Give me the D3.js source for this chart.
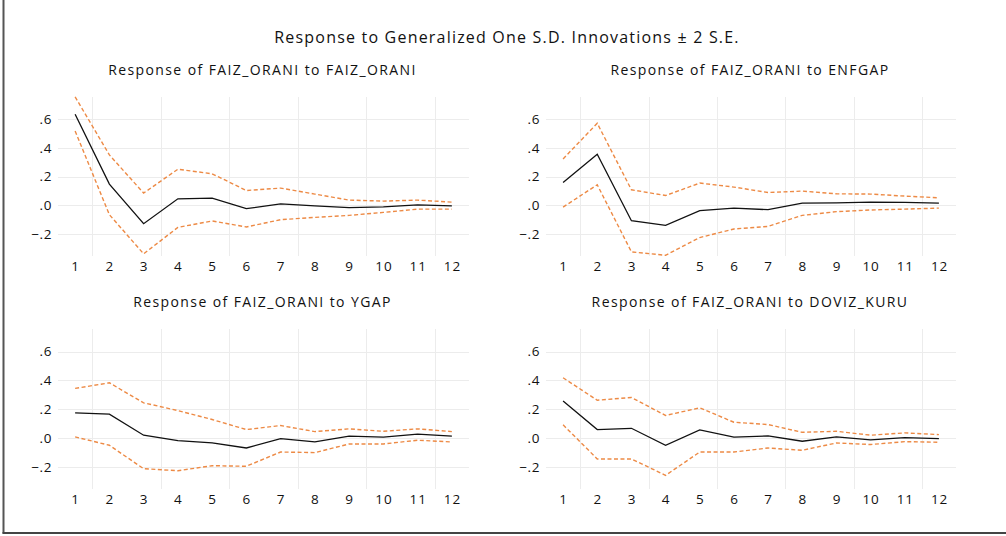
<!DOCTYPE html>
<html>
<head>
<meta charset="utf-8">
<script src="https://cdn.jsdelivr.net/npm/d3@7"></script>
<style>
  html, body { margin: 0; padding: 0; background: #fff; }
  svg { display: block; font-family: "Open Sans", "Noto Sans", sans-serif; }
</style>
</head>
<body>
<svg id="chart" width="1006" height="536"></svg>
<script>
// ---- Data ----
const periods = [1,2,3,4,5,6,7,8,9,10,11,12];
const yTicks = [-0.2, 0.0, 0.2, 0.4, 0.6];
const mainTitle = "Response to Generalized One S.D. Innovations \u00b1 2 S.E.";
const panelTitles = [
  "Response of FAIZ_ORANI to FAIZ_ORANI",
  "Response of FAIZ_ORANI to ENFGAP",
  "Response of FAIZ_ORANI to YGAP",
  "Response of FAIZ_ORANI to DOVIZ_KURU"
];

const faizResp  = [0.636, 0.148, -0.129, 0.045, 0.050, -0.024, 0.010, -0.005, -0.017, -0.012, 0.002, -0.004];
const faizUpper = [0.758, 0.352, 0.085, 0.252, 0.220, 0.103, 0.120, 0.078, 0.036, 0.029, 0.036, 0.022];
const faizLower = [0.519, -0.066, -0.340, -0.155, -0.110, -0.152, -0.101, -0.085, -0.071, -0.050, -0.027, -0.027];

const enfResp  = [0.159, 0.357, -0.108, -0.141, -0.038, -0.020, -0.031, 0.015, 0.017, 0.022, 0.020, 0.015];
const enfUpper = [0.324, 0.573, 0.108, 0.068, 0.155, 0.127, 0.089, 0.099, 0.080, 0.078, 0.064, 0.052];
const enfLower = [-0.013, 0.143, -0.326, -0.350, -0.226, -0.166, -0.148, -0.071, -0.045, -0.033, -0.027, -0.020];

const ygapResp  = [0.174, 0.165, 0.019, -0.019, -0.035, -0.070, -0.005, -0.028, 0.012, 0.005, 0.026, 0.012];
const ygapUpper = [0.344, 0.383, 0.244, 0.190, 0.128, 0.058, 0.086, 0.044, 0.063, 0.046, 0.063, 0.044];
const ygapLower = [0.007, -0.051, -0.214, -0.228, -0.193, -0.197, -0.098, -0.102, -0.042, -0.042, -0.016, -0.028];

const dovizResp  = [0.256, 0.058, 0.067, -0.051, 0.056, 0.005, 0.014, -0.023, 0.007, -0.014, 0.002, -0.005];
const dovizUpper = [0.418, 0.262, 0.281, 0.156, 0.209, 0.109, 0.093, 0.039, 0.046, 0.019, 0.035, 0.023];
const dovizLower = [0.091, -0.146, -0.146, -0.260, -0.098, -0.098, -0.070, -0.086, -0.035, -0.046, -0.026, -0.030];

const panelData = [
  {resp: faizResp, upper: faizUpper, lower: faizLower},
  {resp: enfResp, upper: enfUpper, lower: enfLower},
  {resp: ygapResp, upper: ygapUpper, lower: ygapLower},
  {resp: dovizResp, upper: dovizUpper, lower: dovizLower}
];

// ---- Layout ----
const svg = d3.select("#chart");
const layout = [
  {x0: 58,  x1: 469, y0: 97,  y1: 256},
  {x0: 546, x1: 956, y0: 97,  y1: 256},
  {x0: 58,  x1: 469, y0: 329, y1: 489},
  {x0: 546, x1: 956, y0: 329, y1: 489}
];

// frame
svg.append("line").attr("x1", 3.5).attr("x2", 3.5).attr("y1", 0).attr("y2", 533.5)
  .attr("stroke", "#555").attr("stroke-width", 2);
svg.append("line").attr("x1", 2.5).attr("x2", 1006).attr("y1", 533).attr("y2", 533)
  .attr("stroke", "#444").attr("stroke-width", 2);

svg.append("text").attr("x", 507).attr("y", 43).attr("text-anchor", "middle")
  .attr("font-size", 16).attr("letter-spacing", 1.2).attr("fill", "#111").text(mainTitle);

const fmt = v => {
  let s = d3.format(".1f")(v);
  return s.replace("0.", ".");
};

panelData.forEach((d, i) => {
  const L = layout[i];
  const x = d3.scaleLinear().domain([0.5, 12.5]).range([L.x0, L.x1]);
  const y = d3.scaleLinear().domain([-0.355, 0.757]).range([L.y1, L.y0]);
  const g = svg.append("g");

  g.append("text").attr("x", (L.x0 + L.x1) / 2 - 1).attr("y", L.y0 - 22)
    .attr("text-anchor", "middle").attr("font-size", 14).attr("letter-spacing", 1.4)
    .attr("fill", "#111")
    .text(panelTitles[i]);

  // gridlines
  g.selectAll(".hg").data(yTicks).join("line")
    .attr("x1", L.x0).attr("x2", L.x1)
    .attr("y1", v => Math.round(y(v)) + 0.5).attr("y2", v => Math.round(y(v)) + 0.5)
    .attr("stroke", "#ececec").attr("stroke-width", 1);
  const vgrid = periods.filter(p => p % 2 === 1 && p < 12).map(p => p + 0.5);
  g.selectAll(".vg").data(vgrid).join("line")
    .attr("x1", v => Math.round(x(v)) + 0.5).attr("x2", v => Math.round(x(v)) + 0.5)
    .attr("y1", L.y0).attr("y2", L.y1)
    .attr("stroke", "#ececec").attr("stroke-width", 1);

  // axes
  const xAxis = d3.axisBottom(x).tickValues(periods).tickSize(0).tickPadding(0).tickFormat(d3.format("d"));
  const xa = g.append("g").attr("transform", `translate(0,${L.y1 + 10})`).call(xAxis);
  xa.select(".domain").remove();
  xa.selectAll("text").attr("font-size", 13.5).attr("letter-spacing", 0.8).attr("fill", "#111")
    .attr("font-family", "\"Open Sans\", sans-serif").attr("dy", "0.35em");

  const yAxis = d3.axisLeft(y).tickValues(yTicks).tickSize(0).tickPadding(0).tickFormat(fmt);
  const ya = g.append("g").attr("transform", `translate(${L.x0 - 6},0)`).call(yAxis);
  ya.select(".domain").remove();
  ya.selectAll("text").attr("font-size", 13.5).attr("letter-spacing", 0.6).attr("fill", "#111")
    .attr("font-family", "\"Open Sans\", sans-serif");

  const line = d3.line().x((v, k) => x(periods[k])).y(v => y(v));
  g.append("path").attr("d", line(d.upper)).attr("fill", "none")
    .attr("stroke", "#ED8A45").attr("stroke-width", 1.4).attr("stroke-dasharray", "4,2.5");
  g.append("path").attr("d", line(d.lower)).attr("fill", "none")
    .attr("stroke", "#ED8A45").attr("stroke-width", 1.4).attr("stroke-dasharray", "4,2.5");
  g.append("path").attr("d", line(d.resp)).attr("fill", "none")
    .attr("stroke", "#111").attr("stroke-width", 1.3);
});
</script>
</body>
</html>
